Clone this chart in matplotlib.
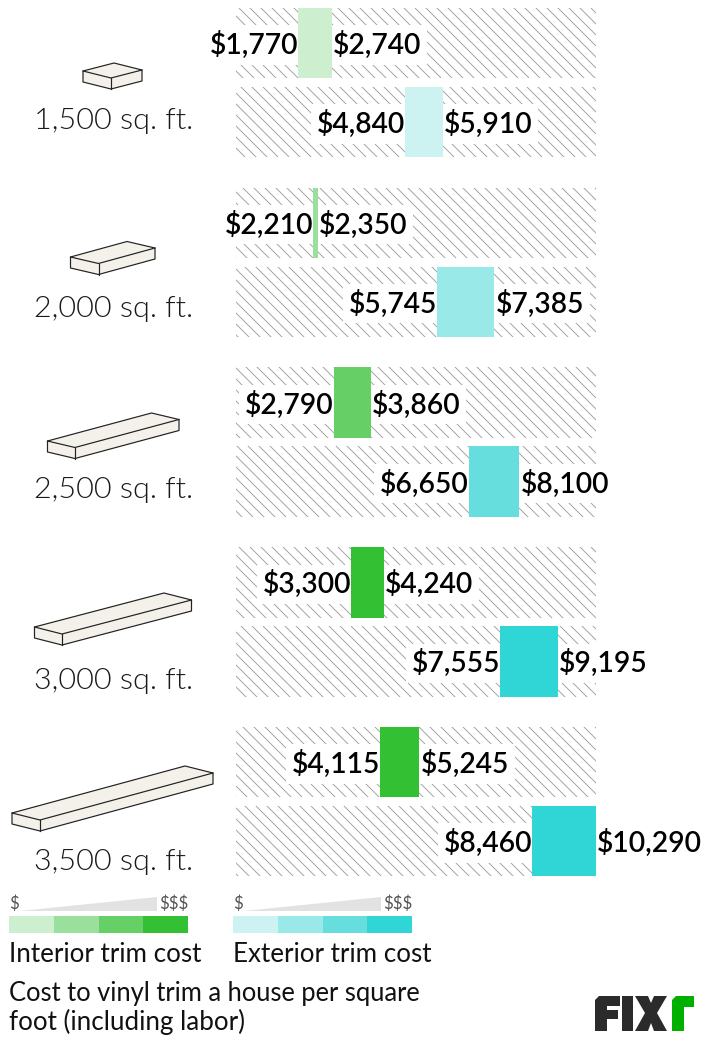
import matplotlib
matplotlib.use("Agg")
import matplotlib.pyplot as plt
from matplotlib.patches import Polygon, Rectangle

# values
sizes = ["1,500 sq. ft.", "2,000 sq. ft.", "2,500 sq. ft.", "3,000 sq. ft.", "3,500 sq. ft."]
interior_low = [1770, 2210, 2790, 3300, 4115]
interior_high = [2740, 2350, 3860, 4240, 5245]
exterior_low = [4840, 5745, 6650, 7555, 8460]
exterior_high = [5910, 7385, 8100, 9195, 10290]
interior_colors = ["#CDEFD0", "#9ADF9C", "#66CF66", "#33C133", "#33C133"]
exterior_colors = ["#CCF3F2", "#99E9E8", "#66DEDE", "#30D5D5", "#30D5D5"]
legend_interior = ["#CDEFD0", "#9ADF9C", "#66CF66", "#33C133"]
legend_exterior = ["#CCF3F2", "#99E9E8", "#66DEDE", "#30D5D5"]

W, H = 710, 1040
DPI = 132
plt.rcParams["font.family"] = ["Lato", "DejaVu Sans"]
plt.rcParams["hatch.linewidth"] = 0.5
plt.rcParams["hatch.color"] = "#a0a0a0"


def pt(px):
    return px * 72 / DPI


fig = plt.figure(figsize=(W / DPI, H / DPI), dpi=DPI, facecolor="white")

# overlay in pixel coords for icons, legend, captions
bg = fig.add_axes([0, 0, 1, 1])
bg.set_xlim(0, W)
bg.set_ylim(H, 0)
bg.axis("off")

# bars, pixel y but real dollar x
ax = fig.add_axes([236 / W, 0, 360 / W, 1])
ax.set_xlim(0, 10290)
ax.set_ylim(H, 0)
ax.axis("off")


def bar_row(y, low, high, color):
    ax.barh(y, 10290, height=70.5, left=0, color="white", hatch="\\\\\\\\", edgecolor="#a0a0a0", linewidth=0, zorder=1)
    ax.annotate(f"${low:,}", (low, y + 2), xytext=(0, 0), textcoords="offset points", ha="right", va="center",
                fontsize=pt(28.2), fontweight=600, color="#000000",
                bbox=dict(fc="white", ec="none", pad=3), zorder=2, annotation_clip=False)
    ax.annotate(f"${high:,}", (high, y + 2), xytext=(pt(1), 0), textcoords="offset points", ha="left", va="center",
                fontsize=pt(28.2), fontweight=600, color="#000000",
                bbox=dict(fc="white", ec="none", pad=3), zorder=2, annotation_clip=False)
    ax.barh(y, high - low, height=70.5, left=low, color=color, linewidth=0, zorder=3)


def board(left, front, right, h):
    back = (left[0] + right[0] - front[0], left[1] + right[1] - front[1])
    drop = lambda p: (p[0], p[1] + h)
    bg.add_patch(Polygon([left, back, right, drop(right), drop(front), drop(left)], closed=True, fc="#F3F1EA", ec="#222222", lw=0.65, joinstyle="round"))
    bg.plot([left[0], front[0], right[0]], [left[1], front[1], right[1]], color="#222222", lw=0.65)
    bg.plot([front[0], front[0]], [front[1], front[1] + h], color="#222222", lw=0.65)


boards = [((83, 71), (111, 78), (142, 70), 11),
          ((70.5, 257), (98.5, 263.5), (155, 248), 11),
          ((47.5, 441), (75, 447.5), (179, 419.5), 11),
          ((34.5, 627), (62, 634), (191.5, 600), 11),
          ((12, 813), (40, 820), (213, 773), 11)]
label_y = [121, 308.5, 490, 681.5, 862]

for i, s in enumerate(sizes):
    top = 8 + i * 179.75
    bar_row(top + 35, interior_low[i], interior_high[i], interior_colors[i])
    bar_row(top + 114, exterior_low[i], exterior_high[i], exterior_colors[i])
    board(*boards[i])
    bg.text(113.5, label_y[i], s, ha="center", va="center", fontsize=pt(30.5), fontweight=300, color="#1a1a1a")

# legend
for x0, cols, name in [(9, legend_interior, "Interior trim cost"), (233, legend_exterior, "Exterior trim cost")]:
    for j, c in enumerate(cols):
        bg.add_patch(Rectangle((x0 + j * 44.75, 916), 44.75, 17, fc=c, ec="none"))
    bg.add_patch(Polygon([(x0 + 11, 911), (x0 + 148, 911), (x0 + 148, 897)], closed=True, fc="#E2E2E2", ec="none"))
    bg.text(x0, 904, "$", ha="left", va="center", fontsize=pt(17), color="#555555")
    bg.text(x0 + 179, 904, "$$$", ha="right", va="center", fontsize=pt(17), color="#555555")
    bg.text(x0, 954, name, ha="left", va="center", fontsize=pt(26), color="#111111")

bg.text(9, 993.5, "Cost to vinyl trim a house per square", ha="left", va="center", fontsize=pt(25.5), color="#111111")
bg.text(9, 1021.5, "foot (including labor)", ha="left", va="center", fontsize=pt(26), color="#111111")

# logo
dark = "#2B2B2B"
bg.add_patch(Polygon([(599, 996), (620, 996), (620, 1006), (607, 1006), (607, 1010), (618, 1010), (618, 1019), (607, 1019), (607, 1031), (595, 1031), (595, 1000)], closed=True, fc=dark, ec="none"))
bg.add_patch(Rectangle((622, 996), 11, 35, fc=dark, ec="none"))
bg.add_patch(Polygon([(635, 996), (648, 996), (651, 1003), (654, 996), (667, 996), (657, 1013), (667, 1031), (654, 1031), (651, 1023), (648, 1031), (635, 1031), (645, 1013)], closed=True, fc=dark, ec="none"))
bg.add_patch(Polygon([(672, 1000), (676, 996), (694, 996), (694, 1007), (684, 1007), (684, 1031), (672, 1031)], closed=True, fc="#00B000", ec="none"))

fig.savefig("out.png", dpi=DPI)
